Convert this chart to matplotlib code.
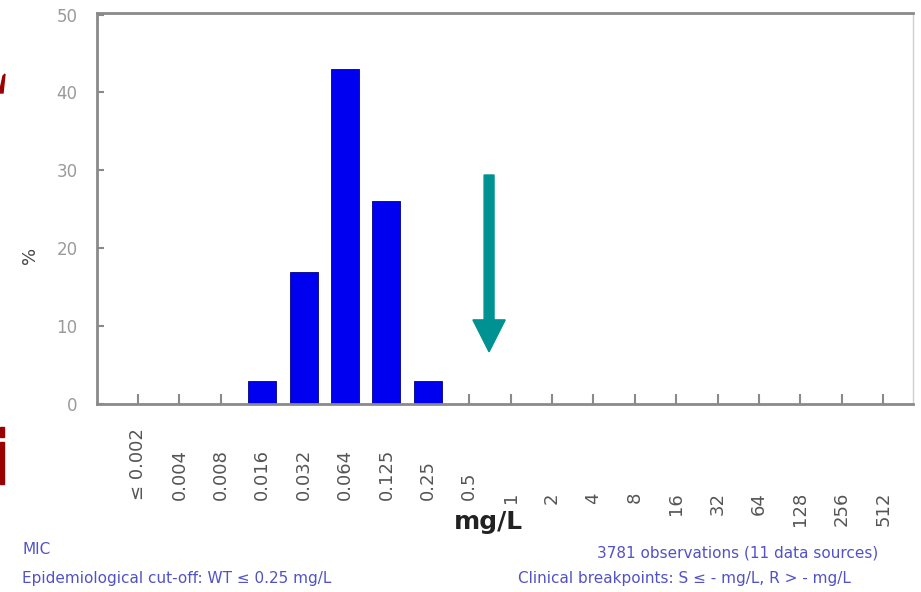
import matplotlib.pyplot as plt
from matplotlib import transforms
from matplotlib.patches import Polygon, Rectangle, FancyArrow

# MIC classes (mg/L) and % of observations
mic_labels = ["≤ 0.002", "0.004", "0.008", "0.016", "0.032", "0.064", "0.125",
              "0.25", "0.5", "1", "2", "4", "8", "16", "32", "64", "128", "256", "512"]
percent = [0, 0, 0, 3, 17, 43, 26, 3, 0, 0, 0, 0, 0, 0, 0, 0, 0, 0, 0]
y_ticks = [0, 10, 20, 30, 40, 50]

# arrow marking the cut-off (x position in class units, y in %)
arrow_x = 8.48
arrow_top = 29.4
arrow_bottom = 6.7

W, H = 921, 592
fig = plt.figure(figsize=(W / 100, H / 100), dpi=100)
ax = fig.add_axes([97 / W, 1 - 404 / H, (913 - 97) / W, (404 - 13) / H])

x = list(range(len(mic_labels)))
ax.bar(x, percent, width=0.68, color="#0000f0", edgecolor="#00008a", linewidth=0.6, zorder=2)

ax.set_xlim(-0.99, 18.72)
ax.set_ylim(0, 50.2)

for s in ax.spines.values():
    s.set_color("#8a8a8a")
    s.set_linewidth(2)
ax.spines["right"].set_linewidth(1)
ax.spines["right"].set_color("#d0d0d0")

ax.set_yticks(y_ticks)
ax.set_yticklabels([str(v) for v in y_ticks], color="#9a9a9a", fontsize=12)
ax.tick_params(axis="y", direction="in", length=5, width=1.5, color="#8a8a8a", pad=14)
ax.set_xticks(x)
ax.set_xticklabels([])
ax.tick_params(axis="x", direction="in", length=7, width=1.5, color="#8a8a8a")

# rotated MIC labels under the axis
trans = transforms.blended_transform_factory(ax.transData, fig.transFigure)
for i, lab in enumerate(mic_labels):
    if "." in lab:
        ax.text(i, 1 - 500 / H, lab, transform=trans, rotation=90, ha="center",
                va="bottom", fontsize=13, color="#555555")
    else:
        ax.text(i, 1 - 492 / H, lab, transform=trans, rotation=90, ha="center",
                va="top", fontsize=13, color="#555555")

fig.text(30 / W, 1 - 255 / H, "%", rotation=90, ha="center", va="center",
         fontsize=13, color="#444444")
fig.text(488 / W, 1 - 522 / H, "mg/L", ha="center", va="center",
         fontsize=18, fontweight="bold", color="#222222")

ax.add_patch(FancyArrow(arrow_x, arrow_top, 0, arrow_bottom - arrow_top, width=0.24,
                        head_width=0.78, head_length=4.1, length_includes_head=True,
                        color="#009292", zorder=4, clip_on=False))

# footer notes
blue = "#5252c8"
fig.text(22 / W, 1 - 550 / H, "MIC", fontsize=11, color=blue, va="center")
fig.text(22 / W, 1 - 578 / H, "Epidemiological cut-off: WT ≤ 0.25 mg/L",
         fontsize=11, color=blue, va="center")
fig.text(597 / W, 1 - 553 / H, "3781 observations (11 data sources)",
         fontsize=11, color=blue, va="center")
fig.text(518 / W, 1 - 578 / H, "Clinical breakpoints: S ≤ - mg/L, R > - mg/L",
         fontsize=11, color=blue, va="center")

# red fragments of the slide text on the left edge
red = "#990000"
def px(pts):
    return [(a / W, 1 - b / H) for a, b in pts]
fig.add_artist(Polygon(px([(0, 90), (3, 76), (5, 74), (3, 93), (0, 93)]), closed=True,
                       transform=fig.transFigure, color=red))
fig.add_artist(Rectangle((0, 1 - 437 / H), 4 / W, 10 / H, transform=fig.transFigure, color=red))
fig.add_artist(Rectangle((0, 1 - 484 / H), 4 / W, 42 / H, transform=fig.transFigure, color=red))

fig.savefig("out.png", dpi=100)
